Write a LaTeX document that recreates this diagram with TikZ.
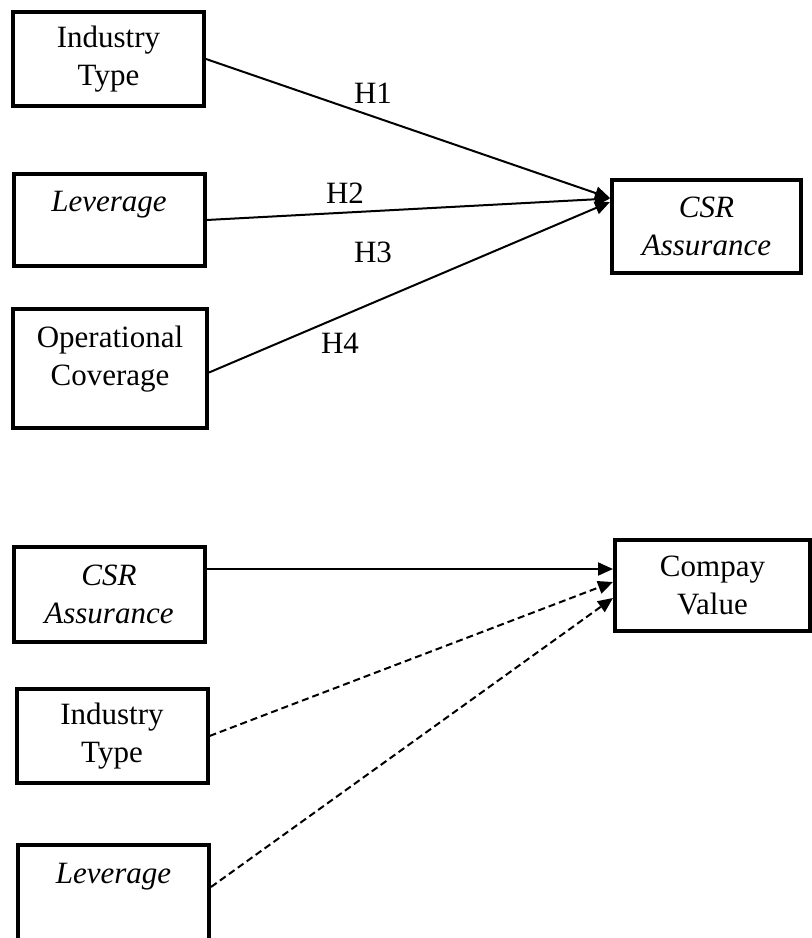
\documentclass[tikz,border=0pt]{standalone}
\usepackage{fontspec}
\setmainfont{Liberation Serif}
\usetikzlibrary{arrows.meta, positioning}

\begin{document}
\begin{tikzpicture}[x=0.5pt, y=-0.5pt,
  varbox/.style={draw, line width=2pt, minimum width=95.5pt, minimum height=47pt, inner sep=0pt, align=center, font=\fontsize{15.5}{19}\selectfont},
  hypo/.style={-{Triangle[length=7.5pt, width=6.5pt]}, line width=1pt},
  effect/.style={hypo, dash pattern=on 3.5pt off 2pt},
  hlabel/.style={font=\fontsize{15.5}{19}\selectfont}]
  \useasboundingbox (0,0) rectangle (811,938);

  % Model 1: determinants of CSR assurance
  \node[varbox] (ind1) at (108.5,59) {Industry\\Type};
  \node[varbox, minimum height=46pt, text depth=18.4pt] (lev1) at (109,220) {\textit{Leverage}};
  \node[varbox, minimum width=97pt, minimum height=59.5pt, text depth=12.9pt] (op1) at (110,368.5) {Operational\\Coverage};
  \node[varbox, minimum width=94.5pt, minimum height=46.5pt] (csr1) at (706.5,226.5) {\textit{CSR}\\\textit{Assurance}};

  \draw[hypo] (ind1.east) -- ([yshift=14.25pt]csr1.west);
  \draw[hypo] (lev1.east) -- ([yshift=14pt]csr1.west);
  \draw[hypo] ([yshift=-2pt]op1.east) -- ([yshift=12.25pt]csr1.west);

  \node[hlabel] (h1) at (373,93) {H1};
  \node[hlabel] (h2) at (345,193) {H2};
  \node[hlabel] (h3) at (373,252) {H3};
  \node[hlabel] (h4) at (340,343) {H4};

  % Model 2: company value
  \node[varbox, minimum height=47.5pt] (csr2) at (109,594.5) {\textit{CSR}\\\textit{Assurance}};
  \node[varbox, minimum width=97.5pt, minimum height=45.5pt] (val2) at (712.5,585.5) {Compay\\Value};
  \node[varbox] (ind2) at (112,736) {Industry\\Type};
  \node[varbox, minimum height=48pt, text depth=19.4pt] (lev2) at (113.5,893) {\textit{Leverage}};

  \draw[hypo] ([yshift=12.75pt]csr2.east) -- ([yshift=8.25pt]val2.west);
  \draw[effect] (ind2.east) -- ([yshift=1.75pt]val2.west);
  \draw[effect] ([yshift=3pt]lev2.east) -- ([yshift=-6.25pt]val2.west);
\end{tikzpicture}
\end{document}
